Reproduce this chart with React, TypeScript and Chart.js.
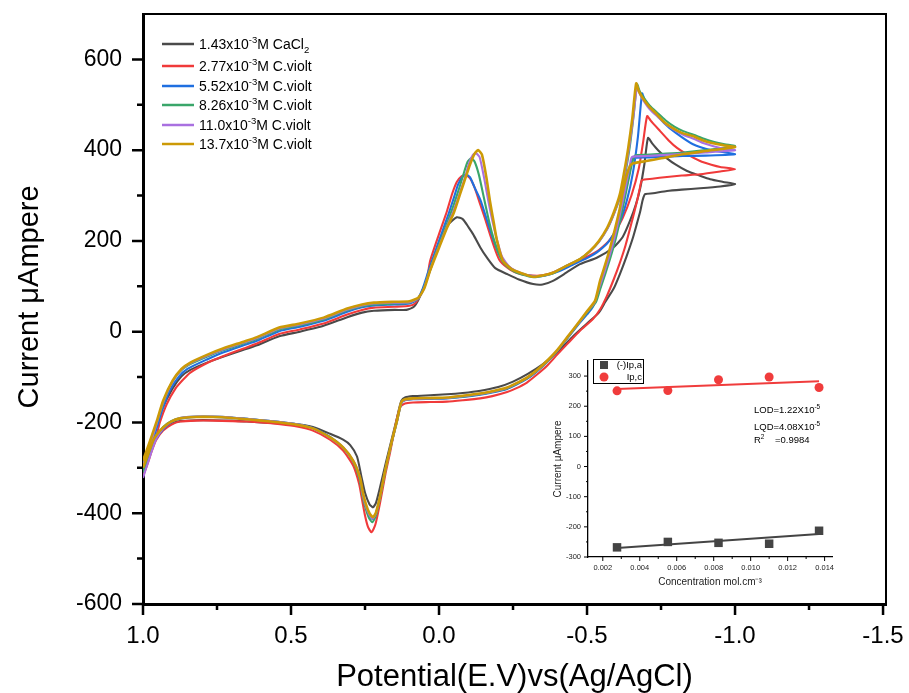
import React, { useEffect, useRef } from 'react';
import { Chart, registerables } from 'chart.js';

Chart.register(...registerables);

const FONT = "'Liberation Sans', Arial, Helvetica, sans-serif";

// ---------- main voltammograms: [potential V, current µA], forward scan then reverse scan ----------
const SCAN_CACL2_143: [number, number][] = [
  [1.0, -290], [0.975, -250], [0.955, -210], [0.935, -170], [0.9, -125], [0.87, -98], [0.84, -84], [0.78, -67],
  [0.73, -55], [0.66, -40], [0.615, -30], [0.54, -10], [0.47, 0], [0.39, 13], [0.31, 32], [0.26, 42], [0.22, 46],
  [0.15, 48], [0.11, 48], [0.085, 55], [0.07, 70], [0.05, 100], [0.03, 135], [0.0, 195], [-0.03, 235], [-0.06, 252],
  [-0.08, 248], [-0.1, 230], [-0.115, 215], [-0.14, 185], [-0.162, 163], [-0.19, 140], [-0.23, 127], [-0.27, 115],
  [-0.318, 105], [-0.35, 104], [-0.385, 112], [-0.43, 130], [-0.476, 149], [-0.533, 163], [-0.588, 185], [-0.62, 208],
  [-0.645, 244], [-0.665, 280], [-0.68, 317], [-0.694, 370], [-0.706, 427], [-0.72, 415], [-0.74, 400], [-0.77, 382],
  [-0.8, 368], [-0.838, 354], [-0.88, 344], [-0.916, 336], [-0.96, 330], [-1.0, 325],
  [-0.95, 320], [-0.882, 316], [-0.82, 313], [-0.77, 310], [-0.723, 305], [-0.696, 303], [-0.688, 290], [-0.68, 266],
  [-0.668, 237], [-0.655, 207], [-0.633, 165], [-0.611, 127], [-0.59, 95], [-0.562, 66], [-0.54, 42], [-0.5, 18],
  [-0.45, -12], [-0.4, -45], [-0.35, -72], [-0.3, -93], [-0.25, -110], [-0.2, -122], [-0.14, -130], [-0.08, -135],
  [-0.027, -138], [0.03, -140], [0.088, -142], [0.115, -145], [0.127, -152], [0.135, -170], [0.142, -190], [0.159, -235],
  [0.18, -290], [0.2, -345], [0.213, -377], [0.223, -387], [0.235, -380], [0.25, -355], [0.262, -320], [0.277, -275],
  [0.3, -250], [0.324, -238], [0.368, -225], [0.426, -210], [0.48, -204], [0.537, -202], [0.6, -200], [0.649, -198],
  [0.7, -196], [0.764, -195], [0.82, -195], [0.875, -197], [0.905, -203], [0.932, -215], [0.955, -232], [0.966, -245],
  [0.983, -270], [1.0, -295],
];

const SCAN_CV_277: [number, number][] = [
  [1.0, -305], [0.976, -270], [0.955, -230], [0.943, -200], [0.92, -160], [0.89, -125], [0.865, -106], [0.84, -90],
  [0.78, -68], [0.73, -54], [0.66, -37], [0.615, -26], [0.54, -5], [0.47, 5], [0.39, 18], [0.31, 38], [0.26, 48],
  [0.22, 53], [0.15, 55], [0.1, 57], [0.08, 63], [0.06, 85], [0.04, 120], [0.03, 156], [0.0, 215], [-0.027, 266],
  [-0.045, 305], [-0.06, 330], [-0.075, 342], [-0.09, 345], [-0.105, 338], [-0.12, 318], [-0.139, 281], [-0.155, 250],
  [-0.172, 215], [-0.19, 180], [-0.206, 156], [-0.24, 137], [-0.274, 127], [-0.331, 123], [-0.37, 127], [-0.41, 137],
  [-0.45, 150], [-0.5, 165], [-0.54, 180], [-0.58, 205], [-0.62, 250], [-0.65, 300], [-0.675, 360], [-0.69, 420],
  [-0.703, 475], [-0.715, 465], [-0.747, 442], [-0.775, 422], [-0.804, 405], [-0.84, 390], [-0.882, 376], [-0.92, 368],
  [-0.95, 363], [-1.0, 358],
  [-0.95, 353], [-0.882, 347], [-0.82, 344], [-0.77, 341], [-0.72, 337], [-0.686, 334], [-0.678, 315], [-0.669, 288],
  [-0.652, 244], [-0.63, 190], [-0.61, 150], [-0.59, 115], [-0.568, 80], [-0.545, 50], [-0.52, 28], [-0.476, 2],
  [-0.432, -28], [-0.4, -50], [-0.365, -75], [-0.33, -95], [-0.297, -112], [-0.26, -125], [-0.23, -133], [-0.18, -142],
  [-0.139, -147], [-0.08, -151], [-0.027, -154], [0.03, -155], [0.088, -156], [0.115, -158], [0.13, -165], [0.14, -185],
  [0.15, -215], [0.165, -265], [0.18, -310], [0.2, -380], [0.215, -425], [0.228, -442], [0.24, -430], [0.25, -405],
  [0.26, -370], [0.27, -335], [0.29, -295], [0.324, -262], [0.368, -238], [0.426, -218], [0.48, -209], [0.537, -204],
  [0.6, -200], [0.649, -198], [0.7, -197], [0.764, -196], [0.82, -196], [0.875, -198], [0.905, -205], [0.932, -218],
  [0.955, -238], [0.97, -262], [0.985, -292], [1.0, -318],
];

const SCAN_CV_552: [number, number][] = [
  [1.0, -298], [0.976, -258], [0.955, -215], [0.935, -172], [0.91, -130], [0.88, -100], [0.85, -82], [0.78, -60],
  [0.73, -46], [0.66, -30], [0.615, -20], [0.54, 1], [0.47, 11], [0.39, 24], [0.31, 44], [0.26, 54], [0.22, 58],
  [0.15, 60], [0.1, 62], [0.075, 70], [0.055, 95], [0.035, 135], [0.0, 200], [-0.03, 255], [-0.05, 295], [-0.065, 325],
  [-0.08, 342], [-0.093, 346], [-0.105, 340], [-0.12, 318], [-0.14, 290], [-0.16, 250], [-0.18, 210], [-0.2, 175],
  [-0.22, 152], [-0.25, 136], [-0.28, 127], [-0.325, 122], [-0.36, 124], [-0.4, 132], [-0.45, 147], [-0.5, 162],
  [-0.54, 178], [-0.575, 200], [-0.61, 240], [-0.635, 290], [-0.655, 350], [-0.672, 430], [-0.686, 525], [-0.695, 510],
  [-0.72, 490], [-0.76, 460], [-0.8, 438], [-0.858, 413], [-0.92, 400], [-1.0, 391],
  [-0.9, 388], [-0.824, 387], [-0.75, 385], [-0.7, 384], [-0.656, 382], [-0.648, 365], [-0.639, 338], [-0.625, 295],
  [-0.61, 250], [-0.59, 195], [-0.57, 150], [-0.55, 110], [-0.535, 80], [-0.52, 55], [-0.5, 38], [-0.476, 20],
  [-0.432, -16], [-0.4, -42], [-0.365, -67], [-0.33, -88], [-0.297, -104], [-0.26, -117], [-0.23, -126], [-0.18, -134],
  [-0.139, -139], [-0.08, -144], [-0.027, -147], [0.03, -148], [0.088, -149], [0.115, -151], [0.127, -157], [0.135, -177],
  [0.142, -198], [0.159, -242], [0.18, -302], [0.2, -367], [0.213, -400], [0.224, -413], [0.236, -404], [0.248, -382],
  [0.258, -357], [0.268, -323], [0.29, -285], [0.324, -255], [0.368, -232], [0.426, -212], [0.48, -204], [0.537, -199],
  [0.6, -195], [0.649, -192], [0.7, -190], [0.764, -188], [0.82, -188], [0.875, -192], [0.905, -200], [0.932, -215],
  [0.955, -235], [0.97, -255], [0.985, -282], [1.0, -305],
];

const SCAN_CV_826: [number, number][] = [
  [1.0, -290], [0.976, -248], [0.955, -205], [0.933, -160], [0.905, -115], [0.875, -88], [0.845, -73], [0.78, -54],
  [0.73, -41], [0.66, -26], [0.615, -16], [0.54, 5], [0.47, 14], [0.39, 27], [0.31, 47], [0.26, 56], [0.22, 60],
  [0.15, 62], [0.1, 64], [0.072, 72], [0.052, 95], [0.032, 135], [0.0, 192], [-0.027, 238], [-0.05, 280], [-0.07, 320],
  [-0.085, 352], [-0.097, 375], [-0.108, 382], [-0.12, 375], [-0.135, 345], [-0.15, 300], [-0.165, 255], [-0.18, 215],
  [-0.2, 175], [-0.22, 150], [-0.25, 134], [-0.28, 126], [-0.32, 120], [-0.35, 123], [-0.39, 130], [-0.43, 145],
  [-0.476, 160], [-0.51, 177], [-0.54, 198], [-0.568, 226], [-0.59, 258], [-0.615, 303], [-0.63, 350], [-0.645, 410],
  [-0.658, 480], [-0.669, 545], [-0.678, 530], [-0.692, 515], [-0.712, 498], [-0.738, 482], [-0.765, 466], [-0.795, 452],
  [-0.825, 442], [-0.86, 434], [-0.895, 425], [-0.93, 418], [-0.965, 413], [-1.0, 409],
  [-0.9, 400], [-0.824, 395], [-0.75, 392], [-0.7, 390], [-0.662, 388], [-0.652, 370], [-0.642, 340], [-0.628, 295],
  [-0.615, 255], [-0.597, 205], [-0.58, 165], [-0.562, 128], [-0.545, 95], [-0.53, 65], [-0.5, 42], [-0.476, 22],
  [-0.432, -15], [-0.4, -42], [-0.365, -66], [-0.33, -87], [-0.297, -103], [-0.26, -116], [-0.23, -125], [-0.18, -133],
  [-0.139, -138], [-0.08, -143], [-0.027, -146], [0.03, -147], [0.088, -148], [0.115, -150], [0.127, -156], [0.135, -176],
  [0.142, -197], [0.159, -241], [0.18, -301], [0.2, -368], [0.213, -405], [0.225, -420], [0.237, -410], [0.249, -387],
  [0.259, -360], [0.268, -325], [0.29, -286], [0.324, -256], [0.368, -233], [0.426, -213], [0.48, -204], [0.537, -199],
  [0.6, -195], [0.649, -192], [0.7, -189], [0.764, -187], [0.82, -187], [0.875, -190], [0.905, -197], [0.932, -210],
  [0.955, -230], [0.97, -252], [0.985, -280], [1.0, -310],
];

const SCAN_CV_1100: [number, number][] = [
  [1.0, -295], [0.976, -250], [0.955, -205], [0.933, -158], [0.902, -112], [0.872, -85], [0.842, -70], [0.78, -52],
  [0.73, -39], [0.66, -24], [0.615, -14], [0.54, 7], [0.47, 16], [0.39, 29], [0.31, 49], [0.26, 58], [0.22, 62],
  [0.15, 64], [0.1, 65], [0.071, 73], [0.051, 95], [0.031, 135], [0.0, 188], [-0.027, 232], [-0.05, 268], [-0.07, 305],
  [-0.088, 340], [-0.102, 372], [-0.115, 390], [-0.125, 393], [-0.137, 385], [-0.152, 340], [-0.166, 290], [-0.18, 245],
  [-0.195, 205], [-0.213, 165], [-0.24, 142], [-0.274, 130], [-0.318, 122], [-0.35, 124], [-0.385, 130], [-0.43, 145],
  [-0.476, 160], [-0.51, 177], [-0.54, 198], [-0.568, 226], [-0.59, 258], [-0.613, 303], [-0.628, 350], [-0.642, 405],
  [-0.656, 470], [-0.669, 540], [-0.678, 524], [-0.692, 508], [-0.712, 490], [-0.738, 474], [-0.765, 458], [-0.795, 445],
  [-0.825, 434], [-0.86, 425], [-0.895, 415], [-0.93, 408], [-0.965, 403], [-1.0, 400],
  [-0.9, 395], [-0.824, 392], [-0.75, 389], [-0.7, 387], [-0.652, 385], [-0.645, 368], [-0.637, 340], [-0.623, 295],
  [-0.61, 255], [-0.592, 205], [-0.575, 165], [-0.557, 128], [-0.54, 95], [-0.526, 65], [-0.5, 44], [-0.476, 23],
  [-0.432, -14], [-0.4, -41], [-0.365, -65], [-0.33, -86], [-0.297, -102], [-0.26, -115], [-0.23, -124], [-0.18, -132],
  [-0.139, -137], [-0.08, -142], [-0.027, -146], [0.03, -147], [0.088, -148], [0.115, -150], [0.127, -156], [0.135, -176],
  [0.142, -197], [0.159, -241], [0.18, -301], [0.2, -366], [0.213, -400], [0.224, -412], [0.236, -403], [0.248, -383],
  [0.258, -358], [0.266, -324], [0.285, -290], [0.32, -258], [0.368, -234], [0.426, -213], [0.48, -204], [0.537, -199],
  [0.6, -195], [0.649, -192], [0.7, -189], [0.764, -187], [0.82, -187], [0.875, -190], [0.905, -198], [0.932, -213],
  [0.955, -236], [0.97, -262], [0.985, -292], [1.0, -322],
];

const SCAN_CV_1370: [number, number][] = [
  [1.0, -284], [0.976, -240], [0.953, -196], [0.932, -152], [0.9, -108], [0.87, -82], [0.84, -68], [0.78, -50],
  [0.73, -37], [0.66, -22], [0.615, -12], [0.54, 9], [0.47, 18], [0.39, 31], [0.31, 51], [0.26, 60], [0.22, 64],
  [0.15, 66], [0.1, 67], [0.07, 75], [0.05, 95], [0.03, 135], [0.0, 185], [-0.027, 229], [-0.05, 262], [-0.071, 303],
  [-0.09, 340], [-0.105, 369], [-0.12, 392], [-0.132, 400], [-0.145, 390], [-0.16, 340], [-0.172, 288], [-0.185, 240],
  [-0.196, 200], [-0.216, 156], [-0.245, 138], [-0.274, 130], [-0.318, 121], [-0.35, 124], [-0.385, 130], [-0.43, 145],
  [-0.476, 160], [-0.51, 178], [-0.54, 200], [-0.568, 229], [-0.59, 262], [-0.611, 303], [-0.625, 350], [-0.639, 404],
  [-0.653, 470], [-0.666, 547], [-0.675, 530], [-0.689, 514], [-0.71, 496], [-0.736, 479], [-0.76, 462], [-0.791, 448],
  [-0.82, 438], [-0.858, 431], [-0.89, 422], [-0.926, 415], [-0.96, 411], [-1.0, 407],
  [-0.9, 398], [-0.824, 391], [-0.75, 382], [-0.7, 376], [-0.656, 371], [-0.645, 365], [-0.635, 347], [-0.62, 305],
  [-0.611, 272], [-0.595, 228], [-0.578, 185], [-0.56, 145], [-0.544, 112], [-0.527, 68], [-0.5, 45], [-0.476, 24],
  [-0.432, -13], [-0.4, -40], [-0.365, -64], [-0.33, -85], [-0.297, -101], [-0.26, -114], [-0.23, -123], [-0.18, -131],
  [-0.139, -136], [-0.08, -141], [-0.027, -145], [0.03, -146], [0.088, -147], [0.115, -149], [0.127, -155], [0.135, -175],
  [0.142, -196], [0.159, -240], [0.18, -300], [0.2, -365], [0.213, -398], [0.223, -409], [0.235, -400], [0.247, -380],
  [0.257, -355], [0.267, -321], [0.29, -284], [0.324, -255], [0.368, -233], [0.426, -213], [0.48, -205], [0.537, -200],
  [0.6, -196], [0.649, -193], [0.7, -190], [0.764, -188], [0.82, -188], [0.875, -191], [0.905, -198], [0.932, -211],
  [0.955, -228], [0.966, -240], [0.983, -270], [1.0, -300],
];

const SCANS = [SCAN_CACL2_143, SCAN_CV_277, SCAN_CV_552, SCAN_CV_826, SCAN_CV_1100, SCAN_CV_1370];
const SERIES_NAMES = [
  '1.43x10-3M CaCl2', '2.77x10-3M C.violt', '5.52x10-3M C.violt',
  '8.26x10-3M C.violt', '11.0x10-3M C.violt', '13.7x10-3M C.violt',
];
// legend text split into [text, kind] runs (n = normal, sup, sub)
const LEGEND_RUNS: [string, string][][] = [
  [['1.43x10', 'n'], ['-3', 'sup'], ['M CaCl', 'n'], ['2', 'sub']],
  [['2.77x10', 'n'], ['-3', 'sup'], ['M C.violt', 'n']],
  [['5.52x10', 'n'], ['-3', 'sup'], ['M C.violt', 'n']],
  [['8.26x10', 'n'], ['-3', 'sup'], ['M C.violt', 'n']],
  [['11.0x10', 'n'], ['-3', 'sup'], ['M C.violt', 'n']],
  [['13.7x10', 'n'], ['-3', 'sup'], ['M C.violt', 'n']],
];
const SERIES_COLORS = ['#4a4a4a', '#f03a3a', '#1f6fe0', '#3aa66a', '#a970e0', '#cc9a06'];

const X_TICKS = [1.0, 0.75, 0.5, 0.25, 0, -0.25, -0.5, -0.75, -1.0, -1.25, -1.5];
const Y_TICKS = [-600, -500, -400, -300, -200, -100, 0, 100, 200, 300, 400, 500, 600];

// ---------- inset: peak currents vs concentration ----------
const CONC = [0.00277, 0.00552, 0.00826, 0.011, 0.0137];
const IPA_NEG = [-268, -250, -253, -256, -213];
const IPC = [251, 252, 288, 297, 262];
const FIT_X = [0.00277, 0.0137];
const FIT_IPA = [-270, -224];
const FIT_IPC = [257, 283];
const INSET_X_TICKS = [0.002, 0.003, 0.004, 0.005, 0.006, 0.007, 0.008, 0.009, 0.01, 0.011, 0.012, 0.013, 0.014];
const INSET_Y_TICKS = [-300, -250, -200, -150, -100, -50, 0, 50, 100, 150, 200, 250, 300];
const INSET_LEGEND = ['(-)Ip,a', 'Ip,c'];
const INSET_NOTES: [string, string][][] = [
  [['LOD=1.22X10', 'n'], ['-5', 'sup']],
  [['LQD=4.08X10', 'n'], ['-5', 'sup']],
  [['R', 'n'], ['2', 'sup'], ['    =0.9984', 'n']],
];

function drawRuns(ctx: CanvasRenderingContext2D, x: number, y: number, runs: [string, string][], size: number) {
  let cx = x;
  ctx.textAlign = 'left';
  ctx.textBaseline = 'alphabetic';
  for (const [t, kind] of runs) {
    const s = kind === 'n' ? size : size * 0.68;
    const dy = kind === 'sup' ? -size * 0.4 : kind === 'sub' ? size * 0.25 : 0;
    ctx.font = `${s}px ${FONT}`;
    ctx.fillText(t, cx, y + dy);
    cx += ctx.measureText(t).width;
  }
}

function drawTickMarks(chart: any, xMajor: (v: number) => boolean, yMajor: (v: number) => boolean,
  lens: { major: number; minor: number; width: number }) {
  const { ctx, chartArea } = chart;
  const xs = chart.scales.x;
  const ys = chart.scales.y;
  ctx.save();
  ctx.strokeStyle = '#000';
  ctx.lineWidth = lens.width;
  ctx.beginPath();
  for (const t of xs.ticks) {
    const p = xs.getPixelForValue(t.value);
    const l = xMajor(t.value) ? lens.major : lens.minor;
    ctx.moveTo(p, chartArea.bottom);
    ctx.lineTo(p, chartArea.bottom + l);
  }
  for (const t of ys.ticks) {
    const p = ys.getPixelForValue(t.value);
    const l = yMajor(t.value) ? lens.major : lens.minor;
    ctx.moveTo(chartArea.left, p);
    ctx.lineTo(chartArea.left - l, p);
  }
  ctx.stroke();
  ctx.restore();
}

const isMajorX = (v: number) => Math.abs(v * 2 - Math.round(v * 2)) < 1e-9;
const isMajorY = (v: number) => v % 200 === 0;

const zeroPad = (s: any) => {
  s.paddingLeft = 0;
  s.paddingRight = 0;
  s.paddingTop = 0;
  s.paddingBottom = 0;
};

const mainDecor = {
  id: 'mainDecor',
  afterDraw(chart: any) {
    const { ctx, chartArea } = chart;
    drawTickMarks(chart, isMajorX, isMajorY, { major: 11, minor: 6, width: 2.5 });
    ctx.save();
    // frame (top & right)
    ctx.strokeStyle = '#000';
    ctx.lineWidth = 2;
    ctx.beginPath();
    ctx.moveTo(chartArea.left, chartArea.top);
    ctx.lineTo(chartArea.right, chartArea.top);
    ctx.lineTo(chartArea.right, chartArea.bottom);
    ctx.stroke();
    // legend
    const rows = [30, 52, 72, 91, 111, 130];
    LEGEND_RUNS.forEach((runs, i) => {
      const cy = chartArea.top + rows[i];
      ctx.strokeStyle = SERIES_COLORS[i];
      ctx.lineWidth = 2.5;
      ctx.beginPath();
      ctx.moveTo(chartArea.left + 19, cy);
      ctx.lineTo(chartArea.left + 51, cy);
      ctx.stroke();
      ctx.fillStyle = '#000';
      drawRuns(ctx, chartArea.left + 56, cy + 5, runs, 14);
    });
    ctx.restore();
  },
};

const insetDecor = {
  id: 'insetDecor',
  afterDraw(chart: any) {
    const { ctx, chartArea } = chart;
    drawTickMarks(chart, (v) => Math.round(v * 1000) % 2 === 0, (v) => v % 100 === 0, { major: 4, minor: 2, width: 1 });
    ctx.save();
    // legend box
    const lx = chartArea.left + 5;
    const ly = chartArea.top - 2;
    ctx.strokeStyle = '#000';
    ctx.lineWidth = 1;
    ctx.strokeRect(lx + 0.5, ly + 0.5, 50, 24);
    ctx.fillStyle = '#444';
    ctx.fillRect(lx + 7, ly + 2, 8, 8);
    ctx.fillStyle = '#f03c3c';
    ctx.beginPath();
    ctx.arc(lx + 11, ly + 18, 4.5, 0, Math.PI * 2);
    ctx.fill();
    ctx.fillStyle = '#000';
    ctx.font = `9.5px ${FONT}`;
    ctx.textAlign = 'right';
    ctx.textBaseline = 'middle';
    ctx.fillText(INSET_LEGEND[0], lx + 49, ly + 6.5);
    ctx.fillText(INSET_LEGEND[1], lx + 49, ly + 18.5);
    // notes
    const base = [63, 80, 93];
    INSET_NOTES.forEach((runs, i) => drawRuns(ctx, 224, base[i], runs, 9.5));
    ctx.restore();
  },
};

export default function App() {
  const mainRef = useRef<HTMLCanvasElement>(null);
  const insetRef = useRef<HTMLCanvasElement>(null);

  useEffect(() => {
    const main = new Chart(mainRef.current!, {
      type: 'scatter',
      data: {
        datasets: SCANS.map((scan, i) => ({
          label: SERIES_NAMES[i],
          data: scan.map(([x, y]) => ({ x, y })),
          showLine: true,
          borderColor: SERIES_COLORS[i],
          backgroundColor: SERIES_COLORS[i],
          borderWidth: i === 5 ? 2.6 : 2.1,
          pointRadius: 0,
          tension: 0.2,
          order: 5 - i,
        })),
      },
      options: {
        animation: false,
        responsive: false,
        events: [],
        layout: { padding: { top: 14, right: 23, left: 0, bottom: 0 } },
        plugins: { legend: { display: false }, tooltip: { enabled: false } },
        scales: {
          x: {
            type: 'linear',
            min: -1.51,
            max: 1.0,
            reverse: true,
            afterBuildTicks: (s: any) => { s.ticks = X_TICKS.map((v) => ({ value: v })); },
            afterFit: (s: any) => { s.height = 89; zeroPad(s); },
            grid: { display: false, drawTicks: false },
            border: { display: true, color: '#000', width: 3 },
            ticks: {
              autoSkip: false,
              maxRotation: 0,
              padding: 18,
              color: '#000',
              font: { family: FONT, size: 24 },
              callback: (v: any) => (isMajorX(v) ? Number(v).toFixed(1) : ''),
            },
            title: {
              display: true,
              text: 'Potential(E.V)vs(Ag/AgCl)',
              color: '#000',
              font: { family: FONT, size: 31, lineHeight: 1 },
              padding: { top: 0, bottom: 0 },
            },
          },
          y: {
            type: 'linear',
            min: -600,
            max: 700,
            afterBuildTicks: (s: any) => { s.ticks = Y_TICKS.map((v) => ({ value: v })); },
            afterFit: (s: any) => { s.width = 143; zeroPad(s); },
            grid: { display: false, drawTicks: false },
            border: { display: true, color: '#000', width: 3 },
            ticks: {
              autoSkip: false,
              padding: 21,
              color: '#000',
              font: { family: FONT, size: 23 },
              callback: (v: any) => (isMajorY(v) ? String(v) : ''),
            },
            title: {
              display: true,
              text: '   Current μAmpere',
              color: '#000',
              font: { family: FONT, size: 29, lineHeight: 1 },
              padding: { top: 15, bottom: 0 },
            },
          },
        },
      },
      plugins: [mainDecor],
    } as any);

    const inset = new Chart(insetRef.current!, {
      type: 'scatter',
      data: {
        datasets: [
          {
            label: INSET_LEGEND[0],
            data: CONC.map((x, i) => ({ x, y: IPA_NEG[i] })),
            pointStyle: 'rect',
            pointRadius: 6,
            backgroundColor: '#444',
            borderColor: '#444',
            borderWidth: 0,
            order: 0,
          },
          {
            label: INSET_LEGEND[1],
            data: CONC.map((x, i) => ({ x, y: IPC[i] })),
            pointStyle: 'circle',
            pointRadius: 4.5,
            backgroundColor: '#f03c3c',
            borderColor: '#f03c3c',
            borderWidth: 0,
            order: 1,
          },
          {
            label: 'fit a',
            data: FIT_X.map((x, i) => ({ x, y: FIT_IPA[i] })),
            showLine: true,
            pointRadius: 0,
            borderColor: '#444',
            borderWidth: 2,
            order: 2,
          },
          {
            label: 'fit c',
            data: FIT_X.map((x, i) => ({ x, y: FIT_IPC[i] })),
            showLine: true,
            pointRadius: 0,
            borderColor: '#f03c3c',
            borderWidth: 2,
            order: 3,
          },
        ],
      },
      options: {
        animation: false,
        responsive: false,
        events: [],
        layout: { padding: { top: 11, right: 18, left: 0, bottom: 0 } },
        plugins: { legend: { display: false }, tooltip: { enabled: false } },
        scales: {
          x: {
            type: 'linear',
            min: 0.0012,
            max: 0.0144,
            afterBuildTicks: (s: any) => { s.ticks = INSET_X_TICKS.map((v) => ({ value: v })); },
            afterFit: (s: any) => { s.height = 38; zeroPad(s); },
            grid: { display: false, drawTicks: false },
            border: { display: true, color: '#000', width: 1.3 },
            ticks: {
              autoSkip: false,
              maxRotation: 0,
              padding: 6,
              color: '#222',
              font: { family: FONT, size: 7.5 },
              callback: (v: any) => (Math.round(Number(v) * 1000) % 2 === 0 ? Number(v).toFixed(3) : ''),
            },
            title: {
              display: true,
              text: 'Concentration mol.cm⁻³',
              color: '#222',
              font: { family: FONT, size: 10, lineHeight: 1 },
              padding: { top: 0, bottom: 8 },
            },
          },
          y: {
            type: 'linear',
            min: -300,
            max: 350,
            afterBuildTicks: (s: any) => { s.ticks = INSET_Y_TICKS.map((v) => ({ value: v })); },
            afterFit: (s: any) => { s.width = 58; zeroPad(s); },
            grid: { display: false, drawTicks: false },
            border: { display: true, color: '#000', width: 1.3 },
            ticks: {
              autoSkip: false,
              padding: 7,
              color: '#222',
              font: { family: FONT, size: 7.5 },
              callback: (v: any) => (Number(v) % 100 === 0 ? String(v) : ''),
            },
            title: {
              display: true,
              text: 'Current μAmpere',
              color: '#222',
              font: { family: FONT, size: 10, lineHeight: 1 },
              padding: { top: 23, bottom: 0 },
            },
          },
        },
      },
      plugins: [insetDecor],
    } as any);

    return () => {
      main.destroy();
      inset.destroy();
    };
  }, []);

  return (
    <div style={{ position: 'absolute', left: 0, top: 0, width: 909, height: 693, background: '#fff' }}>
      <canvas ref={mainRef} width={909} height={693} style={{ position: 'absolute', left: 0, top: 0, width: 909, height: 693 }} />
      <canvas ref={insetRef} width={320} height={245} style={{ position: 'absolute', left: 530, top: 350, width: 320, height: 245 }} />
    </div>
  );
}
